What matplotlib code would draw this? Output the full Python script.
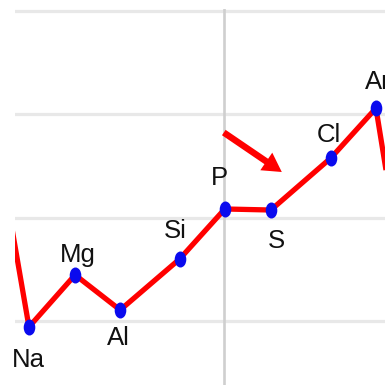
import matplotlib
matplotlib.use("Agg")
import matplotlib.pyplot as plt
from matplotlib.path import Path
from matplotlib.transforms import Affine2D
from matplotlib.patches import ArrowStyle

plt.rcParams['font.family'] = ['Liberation Sans', 'DejaVu Sans']

# ---- data ----
elements = ["Na", "Mg", "Al", "Si", "P", "S", "Cl", "Ar"]
positions = [0.0, 0.93, 1.84, 3.04, 3.95, 4.88, 6.09, 7.00]
energies = [471, 723, 553, 800, 1042, 1037, 1289, 1530]
# neighbours just outside the visible window (Ne before, K after)
prev_pos, prev_energy = -1.0, 1860
next_pos, next_energy = 7.75, 419
grid_values = [500, 1000, 1500, 2000]
vgrid_positions = [3.93]
arrow_tail = (3.93, 1412)
arrow_tip = (5.10, 1221)

# ---- layout / style ----
label_offsets = {  # pixels (dx, dy)
    "Na": (-0.5, -40), "Mg": (3, 13), "Al": (-2, -35), "Si": (-4, 21),
    "P": (-5, 24), "S": (6, -38), "Cl": (-1.5, 16), "Ar": (2, 19),
}

fig = plt.figure(figsize=(3.85, 3.85), dpi=100)
ax = fig.add_axes([15 / 385, 0, 370 / 385, 1 - 9 / 385])
ax.set_xlim(-0.282, 7.182)
ax.set_ylim(190, 2010)
ax.set_axis_off()

for g in grid_values:
    ax.axhline(g, color="#e8e8e8", lw=2.3, zorder=1)
for v in vgrid_positions:
    ax.axvline(v, color="#cfcfcf", lw=1.9, zorder=1.5)

xs = [prev_pos] + positions + [next_pos]
ys = [prev_energy] + energies + [next_energy]
ax.plot(xs, ys, color="#ff0000", lw=3.8, zorder=3, solid_joinstyle="miter",
        solid_capstyle="butt")

ell = Path.unit_circle().transformed(Affine2D().scale(0.7, 1.0))
ax.plot(positions, energies, linestyle="none", marker=ell, markersize=10.5,
        markerfacecolor="#0a0aee", markeredgecolor="#0a0aee", zorder=4)

for name, x, y in zip(elements, positions, energies):
    dx, dy = label_offsets[name]
    ax.annotate(name, (x, y), xytext=(dx, dy), textcoords="offset pixels",
                ha="center", va="baseline", fontsize=18.5, color="#111111",
                zorder=5, annotation_clip=False)

ax.annotate("", xy=arrow_tip, xytext=arrow_tail,
            arrowprops=dict(arrowstyle=ArrowStyle.Simple(head_length=0.75,
                                                         head_width=0.85,
                                                         tail_width=0.26),
                            mutation_scale=18, color="#ff0000", lw=0,
                            shrinkA=0, shrinkB=0),
            zorder=5)

fig.savefig("out.png", dpi=100)
